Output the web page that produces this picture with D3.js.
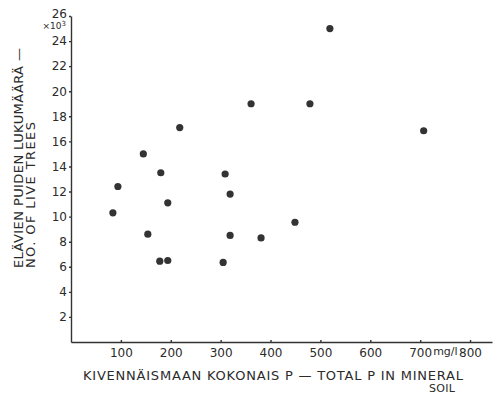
<!DOCTYPE html>
<meta charset="utf-8">
<style>
body { margin: 0; background: #fff; }
svg { display: block; }
.axis path, .axis line { stroke: #333; stroke-width: 1.4px; }
.axis text { font: 12px "DejaVu Sans", sans-serif; fill: #2b2b2b; }
.label { font: 13px "DejaVu Sans", sans-serif; fill: #2b2b2b; }
.dot { fill: #333; }
</style>
<svg width="496" height="395"></svg>
<script src="https://cdn.jsdelivr.net/npm/d3@7"></script>
<script>

// Total P in mineral soil (mg/l)
var phosphorus = [84, 94, 154, 178, 194, 194, 145, 180, 218, 309, 319, 319, 305, 519, 361, 479, 707, 381, 449];
// Number of live trees (x 10^3)
var liveTrees = [10.3, 12.4, 8.6, 6.45, 6.5, 11.1, 15.0, 13.5, 17.1, 13.4, 11.8, 8.5, 6.35, 25.0, 19.0, 19.0, 16.85, 8.3, 9.55];

var xTicks = [100, 200, 300, 400, 500, 600, 700, 800];
var yTicks = [2, 4, 6, 8, 10, 12, 14, 16, 18, 20, 22, 24, 26];

var svg = d3.select("svg");

var x = d3.scaleLinear().domain([0, 844]).range([71, 492]),
    y = d3.scaleLinear().domain([0, 26]).range([342, 16]);

// x axis
svg.append("g")
    .attr("class", "axis")
    .attr("transform", "translate(0,342)")
    .call(d3.axisBottom(x).tickValues(xTicks).tickSize(-2).tickSizeOuter(0).tickPadding(4))
    .call(function(g) { g.selectAll("text").attr("dy", "0.95em"); });

svg.append("text")
    .attr("x", x(700) + 13)
    .attr("y", 355)
    .style("font", "11px 'DejaVu Sans', sans-serif")
    .style("fill", "#2b2b2b")
    .text("mg/l");

// y axis
svg.append("g")
    .attr("class", "axis")
    .attr("transform", "translate(71,0)")
    .call(d3.axisLeft(y).tickValues(yTicks).tickSize(2).tickSizeOuter(0).tickPadding(2))
    .call(function(g) { g.selectAll("text").filter(function(d) { return d === 26; }).attr("dy", "0.15em"); });

// x10^3 unit
var unit = svg.append("text")
    .attr("x", 66)
    .attr("y", 29)
    .attr("text-anchor", "end")
    .style("font", "9px 'DejaVu Sans', sans-serif")
    .style("fill", "#2b2b2b");
unit.append("tspan").text("×10");
unit.append("tspan").attr("dy", -3).style("font-size", "7px").text("3");

// points
svg.selectAll(".dot")
    .data(phosphorus)
    .enter().append("circle")
    .attr("class", "dot")
    .attr("cx", function(d) { return x(d); })
    .attr("cy", function(d, i) { return y(liveTrees[i]); })
    .attr("r", 3.6);

// axis titles
svg.append("text")
    .attr("class", "label")
    .attr("x", 83).attr("y", 380)
    .attr("textLength", 380).attr("lengthAdjust", "spacing")
    .text("KIVENNÄISMAAN  KOKONAIS  P  —  TOTAL  P  IN  MINERAL");

svg.append("text")
    .attr("class", "label")
    .attr("x", 429).attr("y", 392)
    .style("font-size", "11px")
    .attr("textLength", 26).attr("lengthAdjust", "spacing")
    .text("SOIL");

svg.append("text")
    .attr("class", "label")
    .attr("transform", "translate(23,268) rotate(-90)")
    .attr("textLength", 220).attr("lengthAdjust", "spacing")
    .text("ELÄVIEN  PUIDEN  LUKUMÄÄRÄ  —");

svg.append("text")
    .attr("class", "label")
    .attr("transform", "translate(35,268) rotate(-90)")
    .attr("textLength", 146).attr("lengthAdjust", "spacing")
    .text("NO.  OF  LIVE  TREES");

</script>
